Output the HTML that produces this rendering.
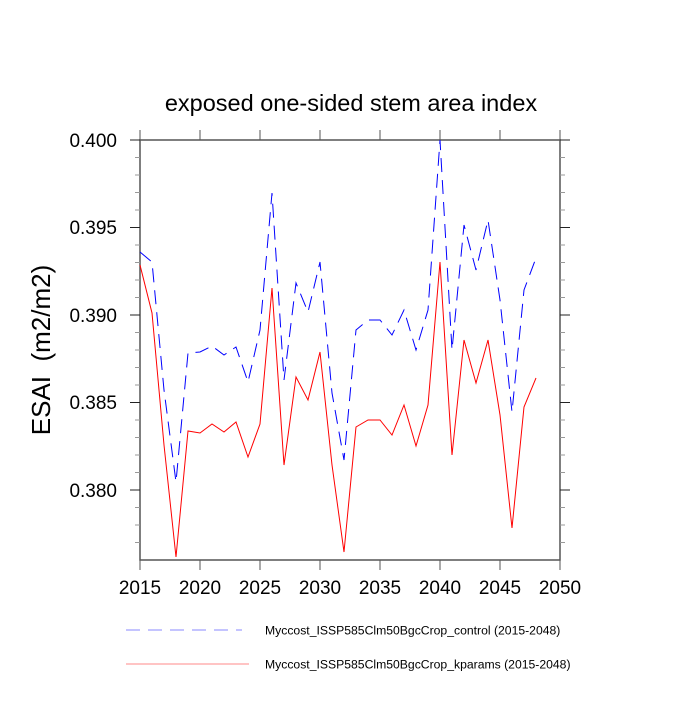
<!DOCTYPE html>
<html><head><meta charset="utf-8"><style>body{margin:0;background:#fff}</style></head>
<body>
<svg width="700" height="700" xmlns="http://www.w3.org/2000/svg" font-family="Liberation Sans, sans-serif">
<rect width="700" height="700" fill="#fff"/>
<text x="351" y="111" font-size="23.5" text-anchor="middle">exposed one-sided stem area index</text>
<text transform="translate(50,350) rotate(-90)" font-size="26" text-anchor="middle" xml:space="preserve">ESAI  (m2/m2)</text>
<g stroke="#555" stroke-width="1">
<path d="M140,140 H560 V560 H140 Z" fill="none" stroke-width="1.5"/>
<path d="M140,140v-10M200,140v-10M260,140v-10M320,140v-10M380,140v-10M440,140v-10M500,140v-10M560,140v-10"/>
<path d="M140,560v10M200,560v10M260,560v10M320,560v10M380,560v10M440,560v10M500,560v10M560,560v10"/>
<path d="M140,140h-10M140,227.5h-10M140,315h-10M140,402.5h-10M140,490h-10M560,140h10M560,227.5h10M560,315h10M560,402.5h10M560,490h10" stroke="#222"/>
<path stroke="#999" d="M140,157.5h-5M140,175h-5M140,192.5h-5M140,210h-5M140,245h-5M140,262.5h-5M140,280h-5M140,297.5h-5M140,332.5h-5M140,350h-5M140,367.5h-5M140,385h-5M140,420h-5M140,437.5h-5M140,455h-5M140,472.5h-5M140,507.5h-5M140,525h-5M140,542.5h-5
M560,157.5h5M560,175h5M560,192.5h5M560,210h5M560,245h5M560,262.5h5M560,280h5M560,297.5h5M560,332.5h5M560,350h5M560,367.5h5M560,385h5M560,420h5M560,437.5h5M560,455h5M560,472.5h5M560,507.5h5M560,525h5M560,542.5h5"/>
</g>
<g font-size="19" text-anchor="end">
<text x="117" y="147">0.400</text><text x="117" y="234">0.395</text><text x="117" y="322">0.390</text><text x="117" y="409">0.385</text><text x="117" y="497">0.380</text>
</g>
<g font-size="19" text-anchor="middle">
<text x="140" y="594">2015</text><text x="200" y="594">2020</text><text x="260" y="594">2025</text><text x="320" y="594">2030</text><text x="380" y="594">2035</text><text x="440" y="594">2040</text><text x="500" y="594">2045</text><text x="560" y="594">2050</text>
</g>
<polyline fill="none" stroke="#00f" stroke-width="1" stroke-dasharray="14,8" points="140,252 152,262 164,390 176,482 188,353 200,352 212,346 224,355 236,347 248,382 260,330 272,193 284,380 296,283 308,312 320,262 332,393 344,460 356,330 368,320 380,320 392,335 404,310 416,350 428,310 440,140 452,350 464,225 476,270 488,220 500,300 512,412 524,290 536,258"/>
<polyline fill="none" stroke="#f00" stroke-width="1" points="140,265 152,313 164,445 176,557 188,431 200,433 212,424 224,432 236,422 248,457 260,424 272,288 284,465 296,377 308,400 320,352 332,465 344,552 356,427 368,420 380,420 392,435 404,405 416,446 428,405 440,262 452,455 464,340 476,383 488,340 500,415 512,528 524,407 536,378"/>
<line x1="126" y1="630" x2="242" y2="630" stroke="#88f" stroke-dasharray="14,8"/>
<line x1="126" y1="664" x2="249" y2="664" stroke="#f88"/>
<text x="265" y="634.5" font-size="12.2">Myccost_ISSP585Clm50BgcCrop_control (2015-2048)</text>
<text x="265" y="668.5" font-size="12.2">Myccost_ISSP585Clm50BgcCrop_kparams (2015-2048)</text>
</svg>
</body></html>
